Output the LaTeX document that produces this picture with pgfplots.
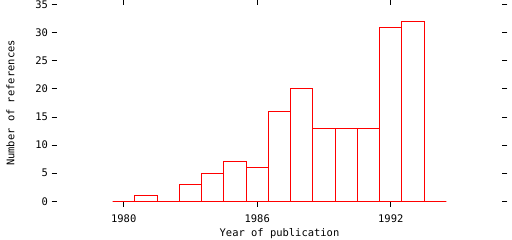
\documentclass[border=0pt]{standalone}
\usepackage{pgfplots}
\pgfplotsset{compat=1.18}
\usepackage{fontspec}
\setmainfont{DejaVu Sans Mono}
\setmonofont{DejaVu Sans Mono}
\begin{document}
\begin{tikzpicture}
\begin{axis}[
  scale only axis,
  width=445bp, height=196.6bp,
  xmin=1977, xmax=1997,
  ymin=0, ymax=35,
  axis line style={draw=none},
  tick align=outside,
  major tick length=5.5bp,
  tick style={black, line width=1bp},
  xtick={1980,1986,1992},
  ytick={0,5,...,35},
  xtick pos=both, ytick pos=both,
  xticklabel pos=left, yticklabel pos=left,
  /pgf/number format/assume math mode=true,
  /pgf/number format/1000 sep={},
  ticklabel style={font=\fontsize{10.5}{12}\selectfont},
  xticklabel style={yshift=-4bp},
  label style={font=\fontsize{10.5}{12}\selectfont},
  xlabel={Year of publication},
  ylabel={Number of references},
  xlabel style={yshift=1bp},
  ylabel style={yshift=14bp},
]
\addplot[ybar interval, draw=red, fill=none, line width=1bp, mark=none] coordinates {
(1979.5,0) (1980.5,1) (1981.5,0) (1982.5,3) (1983.5,5) (1984.5,7)
(1985.5,6) (1986.5,16) (1987.5,20) (1988.5,13) (1989.5,13) (1990.5,13)
(1991.5,31) (1992.5,32) (1993.5,0) (1994.5,0)
};
\end{axis}
\pgfresetboundingbox
\useasboundingbox ([shift={(-57bp,-38.7bp)}]current axis.south west) rectangle ([shift={(10bp,4.7bp)}]current axis.north east);
\end{tikzpicture}
\end{document}
